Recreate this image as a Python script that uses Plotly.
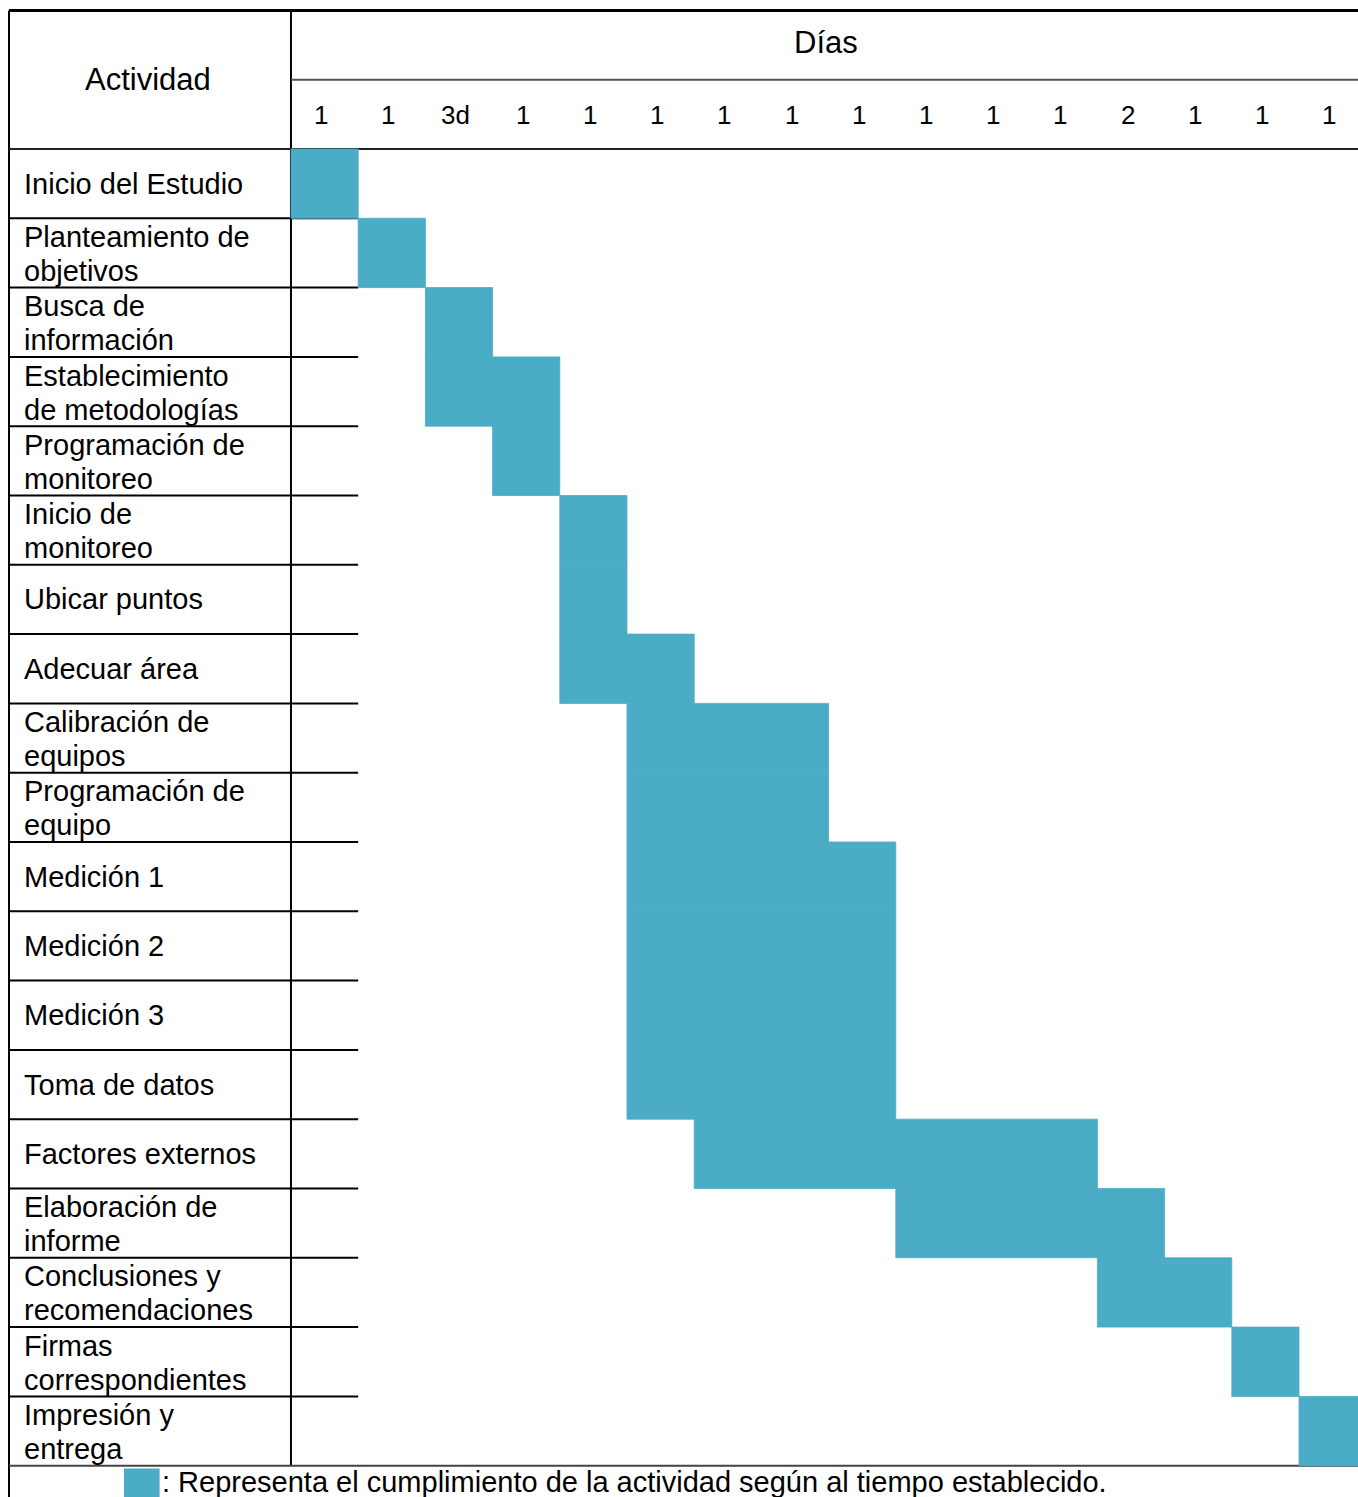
import plotly.graph_objects as go

# ---- data ----
activities = [
    "Inicio del Estudio",
    "Planteamiento de|objetivos",
    "Busca de|información",
    "Establecimiento|de metodologías",
    "Programación de|monitoreo",
    "Inicio de|monitoreo",
    "Ubicar puntos",
    "Adecuar área",
    "Calibración de|equipos",
    "Programación de|equipo",
    "Medición 1",
    "Medición 2",
    "Medición 3",
    "Toma de datos",
    "Factores externos",
    "Elaboración de|informe",
    "Conclusiones y|recomendaciones",
    "Firmas|correspondientes",
    "Impresión y|entrega",
]
start_col = [0, 1, 2, 2, 3, 4, 4, 4, 5, 5, 5, 5, 5, 5, 6, 9, 12, 14, 15]
span_cols = [1, 1, 1, 2, 1, 1, 1, 2, 3, 3, 4, 4, 4, 4, 6, 4, 2, 1, 1]
day_labels = ["1", "1", "3d", "1", "1", "1", "1", "1", "1", "1", "1", "1", "2", "1", "1", "1"]
header_activity = "Actividad"
header_days = "Días"
legend_text = ": Representa el cumplimiento de la actividad según al tiempo establecido."

BAR_COLOR = "#4BACC6"
FONT = "Liberation Sans, Arial, sans-serif"
FS = 29

n_rows = len(activities)
n_cols = len(day_labels)

# axis geometry (column units / row units)
X_LEFT = -4.196     # outer left border
X_MIN, X_MAX = -4.330, 15.878
Y_TOP, Y_BOTTOM = -2.150, 19.452

fig = go.Figure()

fig.add_trace(go.Bar(
    orientation="h",
    y=[i + 0.5 for i in range(n_rows)],
    x=span_cols,
    base=start_col,
    width=1.0,
    marker=dict(color=BAR_COLOR, line=dict(width=0.8, color=BAR_COLOR)),
    showlegend=False,
    hoverinfo="skip",
))

shapes = []
def line(x0, y0, x1, y1, color="black", w=2):
    shapes.append(dict(type="line", xref="x", yref="y", x0=x0, y0=y0, x1=x1, y1=y1,
                       line=dict(color=color, width=w), layer="below"))

# outer borders
line(X_LEFT, -2, X_MAX + 1, -2, "black", 3)
line(X_LEFT, -2, X_LEFT, Y_BOTTOM + 1, "black", 2)
# label column divider
line(0, -2, 0, n_rows, "black", 2)
# header inner line
line(0, -1, X_MAX + 1, -1, "#555555", 2)
# header bottom
line(X_LEFT, 0, X_MAX + 1, 0, "#222222", 2)
# row separators in label column
for r in range(1, n_rows):
    line(X_LEFT, r, 1, r, "black", 2)
# table bottom
line(X_LEFT, n_rows, X_MAX + 1, n_rows, "#444444", 2)

# legend key square
shapes.append(dict(type="rect", xref="x", yref="y",
                   x0=-2.485, x1=-1.955, y0=19.04, y1=Y_BOTTOM + 0.2,
                   fillcolor=BAR_COLOR, line=dict(width=0), layer="above"))

annotations = []
def text(x, y, s, xanchor="center", size=FS):
    annotations.append(dict(x=x, y=y, xref="x", yref="y", text=s, showarrow=False,
                            xanchor=xanchor, yanchor="middle",
                            font=dict(family=FONT, size=size, color="black")))

text(X_LEFT / 2 - 0.03, -1.0, header_activity, size=31)
text(7.96, -1.54, header_days, size=31)
for c, lab in enumerate(day_labels):
    text(c + 0.45, -0.49, lab, size=26)

LABEL_X = -4.005
for r, lab in enumerate(activities):
    parts = lab.split("|")
    if len(parts) == 1:
        text(LABEL_X, r + 0.5, parts[0], xanchor="left")
    else:
        text(LABEL_X, r + 0.27, parts[0], xanchor="left")
        text(LABEL_X, r + 0.76, parts[1], xanchor="left")

text(-1.955, 19.24, legend_text, xanchor="left")

fig.update_layout(
    width=1358, height=1497,
    margin=dict(l=0, r=0, t=0, b=0),
    paper_bgcolor="white", plot_bgcolor="white",
    shapes=shapes, annotations=annotations,
    xaxis=dict(range=[X_MIN, X_MAX], showgrid=False, zeroline=False,
               showticklabels=False, ticks="", fixedrange=True),
    yaxis=dict(range=[Y_BOTTOM, Y_TOP], showgrid=False, zeroline=False,
               showticklabels=False, ticks="", fixedrange=True),
    showlegend=False,
)

fig.write_html("out.html")
